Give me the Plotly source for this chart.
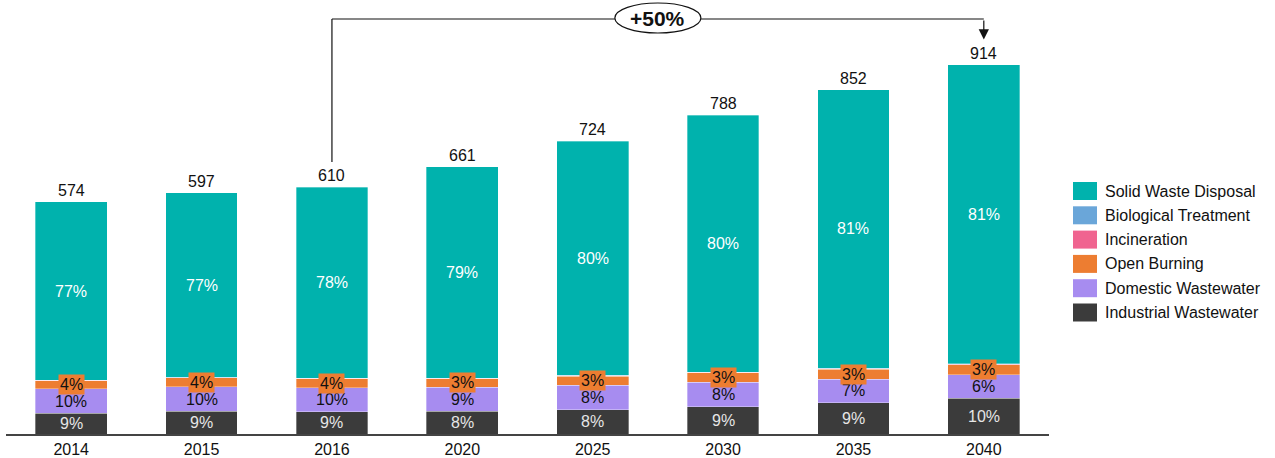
import plotly.graph_objects as go

years = ["2014", "2015", "2016", "2020", "2025", "2030", "2035", "2040"]
totals = [574, 597, 610, 661, 724, 788, 852, 914]

industrial = [51.6, 55.7, 55.0, 55.7, 60.0, 67.4, 77.4, 89.0]
domestic = [60.0, 60.7, 60.0, 60.0, 61.0, 61.0, 58.4, 58.2]
open_burning = [20.7, 22.5, 22.0, 21.6, 22.5, 23.3, 25.0, 24.2]
incineration = [0.4, 0.4, 0.4, 0.5, 0.5, 0.6, 0.6, 0.7]
biological = [0.5, 0.5, 0.6, 0.7, 0.8, 0.9, 1.0, 1.1]
solid_waste = [440.8, 457.2, 472.0, 522.5, 579.2, 634.8, 689.6, 740.8]

industrial_pct = ["9%", "9%", "9%", "8%", "8%", "9%", "9%", "10%"]
domestic_pct = ["10%", "10%", "10%", "9%", "8%", "8%", "7%", "6%"]
open_burning_pct = ["4%", "4%", "4%", "3%", "3%", "3%", "3%", "3%"]
solid_pct = ["77%", "77%", "78%", "79%", "80%", "80%", "81%", "81%"]

growth_label = "+50%"

series = [
    ("Industrial Wastewater", industrial, "#3b3b3b"),
    ("Domestic Wastewater", domestic, "#a78cf0"),
    ("Open Burning", open_burning, "#ed7d31"),
    ("Incineration", incineration, "#f06490"),
    ("Biological Treatment", biological, "#6aa6d9"),
    ("Solid Waste Disposal", solid_waste, "#00b2ad"),
]

FONT = "Liberation Sans, Arial, sans-serif"
W, H = 1275, 458
ML, MR, MT, MB = 6, 226, 0, 24
PW = W - ML - MR
PH = H - MT - MB
SCALE = 0.4042
YMAX = PH / SCALE

def pyd(py):
    # pixel row -> data value (for annotation/connector placement)
    return (H - MB - py) / SCALE

fig = go.Figure()
for name, vals, color in series:
    fig.add_trace(go.Bar(
        x=years, y=vals, name=name, width=0.55,
        marker=dict(color=color, line=dict(color="rgba(255,255,255,0.55)", width=0.6)),
        showlegend=False, hoverinfo="skip",
    ))

ann = []
shapes = []
for i, yr in enumerate(years):
    b1 = industrial[i]
    b2 = b1 + domestic[i]
    b3 = b2 + open_burning[i] + incineration[i] + biological[i]
    ann.append(dict(x=i, y=b1 / 2, text=industrial_pct[i], showarrow=False,
                    font=dict(family=FONT, size=16, color="#e6e6e6")))
    ann.append(dict(x=i, y=b1 + domestic[i] / 2, text=domestic_pct[i], showarrow=False,
                    font=dict(family=FONT, size=16, color="#111111")))
    ann.append(dict(x=i, y=b2 + open_burning[i] / 2, text=open_burning_pct[i], showarrow=False,
                    bgcolor="#ed7d31", borderpad=1,
                    font=dict(family=FONT, size=16, color="#111111")))
    ann.append(dict(x=i, y=b3 + solid_waste[i] / 2, text=solid_pct[i], showarrow=False,
                    font=dict(family=FONT, size=16, color="#ffffff")))
    ann.append(dict(x=i, y=totals[i], text=str(totals[i]), showarrow=False,
                    yanchor="bottom", yshift=1,
                    font=dict(family=FONT, size=16, color="#111111")))

# growth connector from 2016 to 2040
i0 = years.index("2016")
i1 = years.index("2040")
y_top = pyd(19)
y_start = totals[i0] + 63
y_tip = totals[i1] + 62
shapes.append(dict(type="line", xref="x", yref="y", x0=i0, x1=i0, y0=y_start, y1=y_top,
                   line=dict(color="#111111", width=1.2)))
shapes.append(dict(type="line", xref="x", yref="y", x0=i0, x1=i1, y0=y_top, y1=y_top,
                   line=dict(color="#111111", width=1.2)))
ann.append(dict(x=i1, y=y_tip, ax=i1, ay=y_top, xref="x", yref="y", axref="x", ayref="y",
                text="", showarrow=True, arrowhead=2, arrowsize=1.7, arrowwidth=1.2,
                arrowcolor="#111111"))
xm = 4.5
shapes.append(dict(type="circle", xref="x", yref="y", x0=xm - 0.33, x1=xm + 0.33,
                   y0=pyd(33), y1=pyd(3),
                   fillcolor="white", line=dict(color="#111111", width=1.2), layer="above"))
ann.append(dict(x=xm, y=pyd(18), text="<b>" + growth_label + "</b>", showarrow=False,
                font=dict(family=FONT, size=21, color="#111111")))

# manual legend
def px2x(px):
    return (px - ML) / PW

def py2y(py):
    return (H - MB - py) / PH

legend_rows = list(reversed(series))
for k, (name, vals, color) in enumerate(legend_rows):
    cy = 191 + 24.3 * k
    shapes.append(dict(type="rect", xref="paper", yref="paper",
                       x0=px2x(1073), x1=px2x(1097), y0=py2y(cy + 9), y1=py2y(cy - 9),
                       fillcolor=color, line=dict(width=0)))
    ann.append(dict(xref="paper", yref="paper", x=px2x(1103), y=py2y(cy), text=name,
                    showarrow=False, xanchor="left", yanchor="middle",
                    font=dict(family=FONT, size=16, color="#111111")))

fig.update_layout(
    barmode="stack",
    width=W, height=H,
    margin=dict(l=ML, r=MR, t=MT, b=MB),
    plot_bgcolor="white", paper_bgcolor="white",
    showlegend=False,
    annotations=ann, shapes=shapes,
    xaxis=dict(type="category", range=[-0.5, len(years) - 0.5], showgrid=False,
               showline=True, linecolor="#444444", linewidth=1.5, ticks="",
               tickfont=dict(family=FONT, size=16, color="#111111"), fixedrange=True),
    yaxis=dict(range=[0, YMAX], visible=False, showgrid=False, zeroline=False, fixedrange=True),
)

fig.write_html("out.html", config={"displayModeBar": False})
with open("out.html", "r", encoding="utf-8") as f:
    html = f.read()
html = html.replace("<head>", "<head><style>html,body{margin:0;padding:0;overflow:hidden;}</style>", 1)
with open("out.html", "w", encoding="utf-8") as f:
    f.write(html)
